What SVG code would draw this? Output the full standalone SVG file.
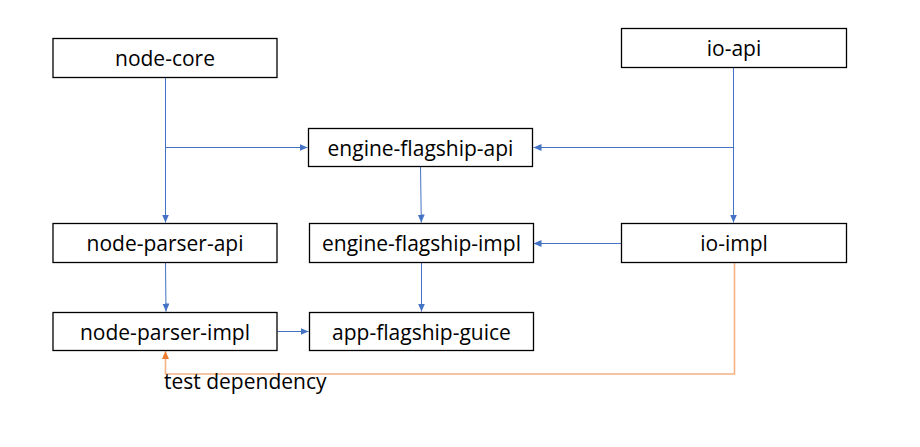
<svg xmlns="http://www.w3.org/2000/svg" width="920" height="447" viewBox="0 0 920 447">
<style>
.box{fill:#fff;stroke:#000;stroke-width:1.3}
.lbl{font-family:"Open Sans","Liberation Sans",sans-serif;font-size:21px;fill:#000;text-anchor:middle}
.blue{fill:none;stroke:#4472C4;stroke-width:1}
.orange{fill:none;stroke:#F4B183;stroke-width:1.6}
</style>
<defs>
<marker id="ab" markerUnits="userSpaceOnUse" markerWidth="9" markerHeight="8" refX="8" refY="3.5" orient="auto"><path d="M0,0 L8,3.5 L0,7 z" fill="#4472C4"/></marker>
<marker id="ao" markerUnits="userSpaceOnUse" markerWidth="9" markerHeight="8" refX="8" refY="3.5" orient="auto"><path d="M0,0 L8,3.5 L0,7 z" fill="#ED7D31"/></marker>
</defs>
<rect width="920" height="447" fill="#fff"/>
<g id="connectors">
<path class="blue" d="M165.5,77.5 L165.5,222.5" marker-end="url(#ab)"/>
<path class="blue" d="M165.5,147.5 L307.5,147.5" marker-end="url(#ab)"/>
<path class="blue" d="M733.5,67.5 L733.5,222.5" marker-end="url(#ab)"/>
<path class="blue" d="M733.5,147.5 L533.5,147.5" marker-end="url(#ab)"/>
<path class="blue" d="M420.5,166.5 L421.3,222.5" marker-end="url(#ab)"/>
<path class="blue" d="M621.5,243.5 L533.5,243.5" marker-end="url(#ab)"/>
<path class="blue" d="M165.5,262.5 L166,311.5" marker-end="url(#ab)"/>
<path class="blue" d="M421.5,262.5 L421.5,311.5" marker-end="url(#ab)"/>
<path class="blue" d="M277.5,331.5 L308.5,331.5" marker-end="url(#ab)"/>
<path class="orange" d="M734.5,262.5 L734.5,374 L165.5,374 L165.5,351" marker-end="url(#ao)"/>
</g>
<g id="node-core"><rect class="box" x="53" y="38.5" width="224" height="39"/><text class="lbl" x="165" y="65.5">node-core</text></g>
<g id="io-api"><rect class="box" x="621.5" y="28.5" width="225" height="39"/><text class="lbl" x="734" y="55.5">io-api</text></g>
<g id="engine-flagship-api"><rect class="box" x="308.5" y="128.5" width="224" height="38"/><text class="lbl" x="420.5" y="155.5">engine-flagship-api</text></g>
<g id="node-parser-api"><rect class="box" x="53" y="223.5" width="224" height="39"/><text class="lbl" x="165" y="250.5">node-parser-api</text></g>
<g id="engine-flagship-impl"><rect class="box" x="309.5" y="223.5" width="224" height="39"/><text class="lbl" x="421.5" y="250.5">engine-flagship-impl</text></g>
<g id="io-impl"><rect class="box" x="621.5" y="223.5" width="225" height="39"/><text class="lbl" x="734" y="250.5">io-impl</text></g>
<g id="node-parser-impl"><rect class="box" x="53" y="312.5" width="224" height="38"/><text class="lbl" x="165" y="339.5">node-parser-impl</text></g>
<g id="app-flagship-guice"><rect class="box" x="309.5" y="312.5" width="224" height="38"/><text class="lbl" x="421.5" y="339.5">app-flagship-guice</text></g>
<text class="lbl" x="164" y="389" style="text-anchor:start">test dependency</text>
</svg>
